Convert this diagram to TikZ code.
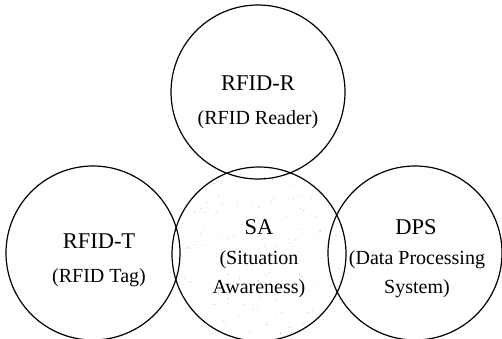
\documentclass[tikz,border=0pt]{standalone}
\usepackage{fontspec}
\setmainfont{Liberation Serif}
\usepackage{tikz}
\usetikzlibrary{positioning}
\tikzset{
  ring/.style={circle, draw=black, line width=1.2pt, minimum size=174pt, inner sep=0pt},
  title/.style={anchor=base, inner sep=0pt, font=\fontsize{22.5}{26}\selectfont},
  sub/.style={anchor=base, inner sep=0pt, font=\fontsize{20}{23}\selectfont},
}
\begin{document}
\begin{tikzpicture}[x=1pt,y=1pt]
  \useasboundingbox (0,0) rectangle (502,338);
  % speckled background of the middle circle
  \begin{scope}
    \clip (259,84) circle (86);
    \pgfmathsetseed{7}
    \foreach \i in {1,...,170}
      \fill[black!35] ({259+86*rand},{84+86*rand}) circle (0.45);
  \end{scope}
  \node[ring] (reader) at (258,246) {};
  \node[ring] (tag) at (93,85) {};
  \node[ring] (sa) at (259,84) {};
  \node[ring] (dps) at (415,85) {};
  % labels
  \node[title] (readername) at (258,248) {RFID-R};
  \node[sub] (readerlong) at (258,214) {(RFID Reader)};
  \node[title] (tagname) at (99,90) {RFID-T};
  \node[sub] (taglong) at (99,56) {(RFID Tag)};
  \node[title] (saname) at (259,104) {SA};
  \node[sub] (salong) at (259,74) {(Situation};
  \node[sub] (salong2) at (259,45) {Awareness)};
  \node[title] (dpsname) at (416,104) {DPS};
  \node[sub] (dpslong) at (417,74) {(Data Processing};
  \node[sub] (dpslong2) at (417,45) {System)};
\end{tikzpicture}
\end{document}
